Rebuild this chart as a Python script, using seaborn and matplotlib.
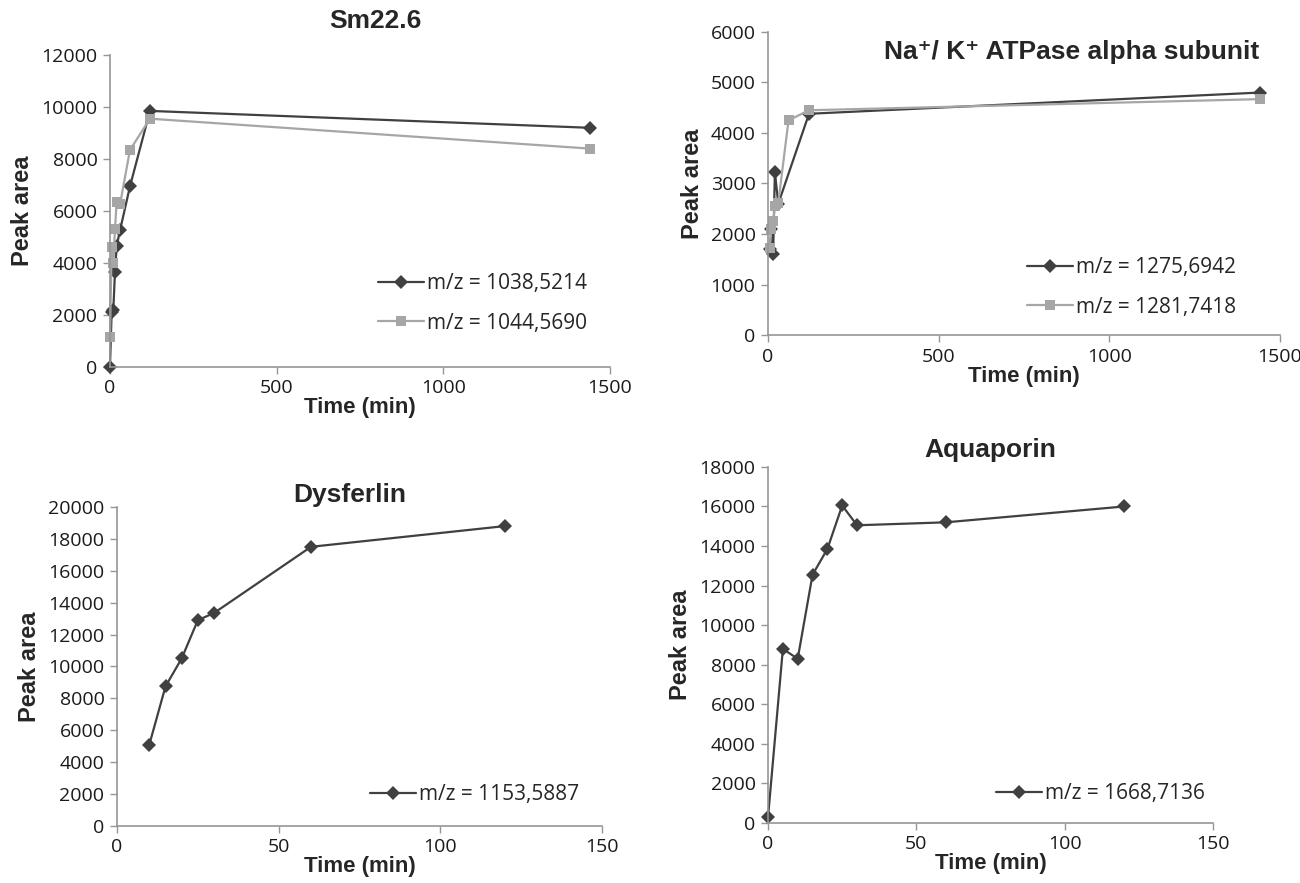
import matplotlib
matplotlib.use('Agg')
import matplotlib.pyplot as plt
import pandas as pd
import seaborn as sns

# data (time in min, peak area)
sm_t_a = [0, 5, 10, 15, 20, 30, 60, 120, 1440]
sm_a = [0, 2100, 2200, 3650, 4650, 5250, 6950, 9850, 9200]
sm_t_b = [0, 5, 10, 15, 20, 30, 60, 120, 1440]
sm_b = [1150, 4600, 4000, 5300, 6350, 6250, 8350, 9550, 8400]

na_t_a = [5, 10, 15, 20, 30, 120, 1440]
na_a = [1700, 2100, 1600, 3230, 2600, 4380, 4800]
na_t_b = [5, 10, 15, 20, 30, 60, 120, 1440]
na_b = [1720, 2100, 2250, 2550, 2620, 4250, 4450, 4670]

dys_t = [10, 15, 20, 25, 30, 60, 120]
dys = [5100, 8750, 10500, 12900, 13350, 17500, 18800]

aqp_t = [0, 5, 10, 15, 20, 25, 30, 60, 120]
aqp = [300, 8800, 8300, 12550, 13850, 16050, 15050, 15200, 16000]

sns.set_theme(style='white')
plt.rcParams['font.family'] = ['Liberation Sans', 'DejaVu Sans']

dark = '#404040'
light = '#a6a6a6'
axcol = '#969696'
tickfont = ['Open Sans', 'DejaVu Sans']


def frame(t_list, v_list, names):
    rows = []
    for t, v, n in zip(t_list, v_list, names):
        for ti, vi in zip(t, v):
            rows.append({'time': ti, 'area': vi, 'series': n})
    return pd.DataFrame(rows)


def style_ax(ax, xmax, xstep, ymax, ystep):
    ax.set_xlim(0, xmax)
    ax.set_ylim(0, ymax)
    ax.set_xticks(range(0, xmax + 1, xstep))
    ax.set_yticks(range(0, ymax + 1, ystep))
    for s in ['top', 'right']:
        ax.spines[s].set_visible(False)
    for s in ['left', 'bottom']:
        ax.spines[s].set_color(axcol)
        ax.spines[s].set_linewidth(1.2)
    ax.tick_params(axis='both', direction='out', length=5, width=1, color=axcol,
                   labelsize=14, labelcolor='#1a1a1a', left=True, bottom=True, pad=4)
    for lab in ax.get_xticklabels() + ax.get_yticklabels():
        lab.set_family(tickfont)
    ax.set_xlabel('Time (min)', fontsize=16, fontweight='bold', labelpad=0)
    ax.set_ylabel('Peak area', fontsize=17, fontweight='bold', labelpad=5)


def draw(ax, df, palette, markers):
    sns.lineplot(data=df, x='time', y='area', hue='series', style='series',
                 palette=palette, markers=markers, dashes=False, ax=ax,
                 linewidth=1.6, markeredgewidth=0, markersize=7, clip_on=False)


def legend(ax, loc, anchor):
    leg = ax.legend(loc=loc, bbox_to_anchor=anchor, frameon=False,
                    fontsize=15, handlelength=2.2, handletextpad=0.15,
                    labelspacing=0.9, borderaxespad=0)
    for t in leg.get_texts():
        t.set_family(tickfont)
    for h in leg.legend_handles:
        h.set_markersize(7)


fig = plt.figure(figsize=(13, 8.83), dpi=100)

# Sm22.6
ax1 = fig.add_axes([0.0846, 0.5844, 0.3846, 0.3533])
n1 = ['m/z = 1038,5214', 'm/z = 1044,5690']
df1 = frame([sm_t_a, sm_t_b], [sm_a, sm_b], n1)
draw(ax1, df1, {n1[0]: dark, n1[1]: light}, {n1[0]: 'D', n1[1]: 's'})
style_ax(ax1, 1500, 500, 12000, 2000)
ax1.text(0.53, 1.07, 'Sm22.6', transform=ax1.transAxes, ha='center', va='bottom',
         fontsize=19, fontweight='bold')
legend(ax1, 'lower right', (0.97, 0.08))

# Na+/K+ ATPase
ax2 = fig.add_axes([0.5908, 0.6206, 0.3938, 0.3432])
n2 = ['m/z = 1275,6942', 'm/z = 1281,7418']
df2 = frame([na_t_a, na_t_b], [na_a, na_b], n2)
draw(ax2, df2, {n2[0]: dark, n2[1]: light}, {n2[0]: 'D', n2[1]: 's'})
style_ax(ax2, 1500, 500, 6000, 1000)
ax2.text(0.96, 0.975, 'Na\u207a/ K\u207a ATPase alpha subunit', transform=ax2.transAxes,
         ha='right', va='top', fontsize=19, fontweight='bold')
legend(ax2, 'lower right', (0.93, 0.03))

# Dysferlin
ax3 = fig.add_axes([0.09, 0.0646, 0.3731, 0.3613])
n3 = ['m/z = 1153,5887']
df3 = frame([dys_t], [dys], n3)
draw(ax3, df3, {n3[0]: dark}, {n3[0]: 'D'})
style_ax(ax3, 150, 50, 20000, 2000)
ax3.text(0.48, 1.0, 'Dysferlin', transform=ax3.transAxes, ha='center', va='bottom',
         fontsize=19, fontweight='bold')
legend(ax3, 'lower right', (0.97, 0.04))

# Aquaporin
ax4 = fig.add_axes([0.5908, 0.068, 0.3423, 0.4032])
n4 = ['m/z = 1668,7136']
df4 = frame([aqp_t], [aqp], n4)
draw(ax4, df4, {n4[0]: dark}, {n4[0]: 'D'})
style_ax(ax4, 150, 50, 18000, 2000)
ax4.text(0.5, 1.015, 'Aquaporin', transform=ax4.transAxes, ha='center', va='bottom',
         fontsize=19, fontweight='bold')
legend(ax4, 'lower right', (1.0, 0.03))

fig.savefig('out.png', dpi=100)
